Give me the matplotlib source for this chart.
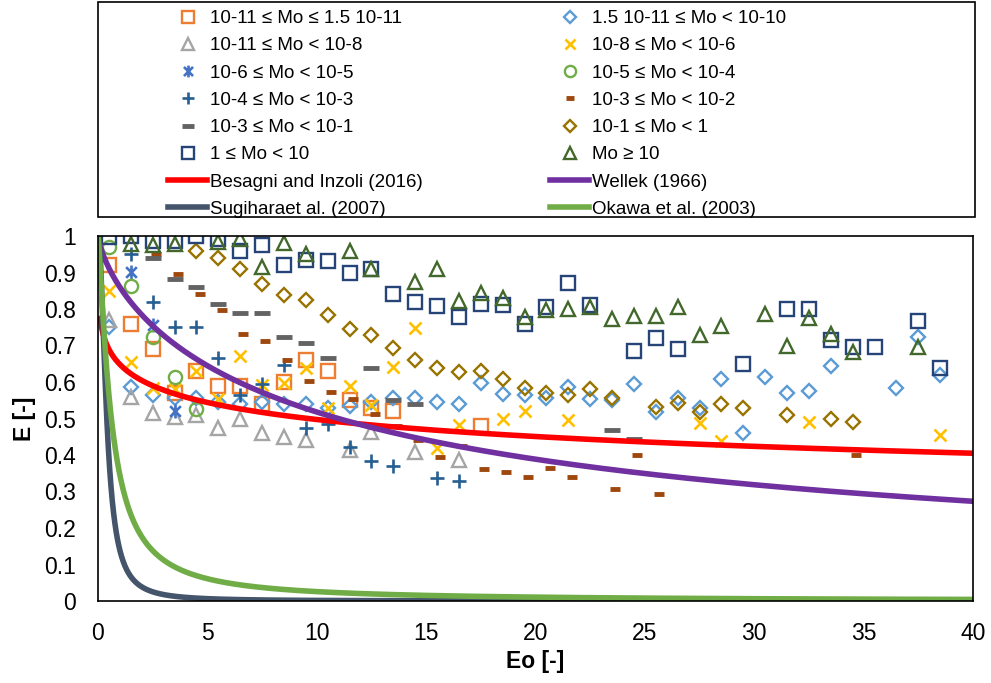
import matplotlib
matplotlib.use('Agg')
import matplotlib.pyplot as plt
import numpy as np
from matplotlib.patches import Rectangle
from matplotlib.path import Path

plt.rcParams['font.family'] = ['Liberation Sans', 'DejaVu Sans']

# --- measured aspect ratio data, grouped by Morton number ---
eo_a = [0.5, 1.5, 2.5, 3.5, 4.5, 5.5, 6.5, 7.5, 8.5, 9.5, 10.5, 11.5, 12.5, 13.5, 17.5]
e_a = [0.92, 0.76, 0.69, 0.57, 0.63, 0.59, 0.59, 0.54, 0.60, 0.66, 0.63, 0.55, 0.53, 0.52, 0.48]

eo_b = [0.5, 1.5, 2.5, 3.5, 4.5, 5.5, 6.5, 7.5, 8.5, 9.5, 10.5, 11.5, 12.5, 13.5, 14.5, 15.5,
        16.5, 17.5, 18.5, 19.5, 20.5, 21.5, 22.5, 23.5, 24.5, 25.5, 26.5, 27.5, 28.5, 29.5,
        30.5, 31.5, 32.5, 33.5, 36.5, 37.5, 38.5]
e_b = [0.75, 0.585, 0.565, 0.555, 0.555, 0.545, 0.54, 0.545, 0.54, 0.54, 0.53, 0.535, 0.545,
       0.555, 0.555, 0.545, 0.54, 0.597, 0.567, 0.564, 0.556, 0.586, 0.553, 0.551, 0.595,
       0.518, 0.556, 0.529, 0.608, 0.46, 0.614, 0.57, 0.575, 0.644, 0.584, 0.723, 0.62]

eo_c = [0.5, 1.5, 2.5, 3.5, 4.5, 5.5, 6.5, 7.5, 8.5, 9.5, 11.5, 12.5, 14.5, 16.5]
e_c = [0.77, 0.56, 0.515, 0.505, 0.51, 0.473, 0.50, 0.46, 0.45, 0.44, 0.415, 0.463, 0.408, 0.386]

eo_d = [0.5, 1.5, 2.5, 3.5, 4.5, 5.5, 6.5, 7.5, 8.5, 9.5, 10.5, 11.5, 12.5, 13.5, 14.5, 15.5,
        16.5, 18.5, 19.5, 21.5, 27.5, 28.5, 32.5, 38.5]
e_d = [0.85, 0.655, 0.584, 0.581, 0.63, 0.553, 0.671, 0.592, 0.597, 0.638, 0.529, 0.589,
       0.537, 0.641, 0.748, 0.42, 0.482, 0.50, 0.52, 0.496, 0.487, 0.438, 0.49, 0.455]

eo_e = [1.5, 2.5, 3.5]
e_e = [0.90, 0.756, 0.52]

eo_f = [0.5, 1.5, 2.5, 3.5, 4.5]
e_f = [0.97, 0.863, 0.723, 0.614, 0.526]

eo_g = [1.5, 2.5, 3.5, 4.5, 5.5, 6.5, 7.5, 8.5, 9.5, 10.5, 11.5, 12.5, 13.5, 15.5, 16.5]
e_g = [0.95, 0.82, 0.75, 0.75, 0.666, 0.564, 0.595, 0.647, 0.474, 0.485, 0.422, 0.384,
       0.37, 0.337, 0.329]

eo_h = [2.65, 3.65, 4.65, 5.65, 6.65, 7.65, 8.65, 9.65, 10.65, 11.65, 12.65, 13.65, 14.65,
        15.65, 16.65, 17.65, 18.65, 19.65, 20.65, 21.65, 23.65, 24.65, 25.65, 34.65]
e_h = [0.95, 0.895, 0.84, 0.797, 0.731, 0.712, 0.66, 0.603, 0.573, 0.553, 0.512, 0.479,
       0.441, 0.395, 0.425, 0.362, 0.354, 0.34, 0.364, 0.34, 0.307, 0.40, 0.293, 0.40]

eo_i = [2.5, 3.5, 4.5, 5.5, 6.5, 7.5, 8.5, 9.5, 10.5, 12.5, 13.5, 14.5, 23.5, 24.5]
e_i = [0.94, 0.882, 0.86, 0.814, 0.789, 0.789, 0.723, 0.707, 0.666, 0.638, 0.551, 0.54,
       0.468, 0.444]

eo_j = [4.5, 5.5, 6.5, 7.5, 8.5, 9.5, 10.5, 11.5, 12.5, 13.5, 14.5, 15.5, 16.5, 17.5, 18.5,
        19.5, 20.5, 21.5, 22.5, 23.5, 25.5, 26.5, 27.5, 28.5, 29.5, 31.5, 33.5, 34.5]
e_j = [0.959, 0.94, 0.91, 0.868, 0.838, 0.825, 0.784, 0.745, 0.729, 0.693, 0.66, 0.638,
       0.627, 0.63, 0.608, 0.584, 0.57, 0.564, 0.581, 0.556, 0.532, 0.542, 0.518, 0.54,
       0.529, 0.51, 0.499, 0.49]

eo_k = [0.5, 1.5, 2.5, 3.5, 4.5, 5.5, 6.5, 7.5, 8.5, 9.5, 10.5, 11.5, 12.5, 13.5, 14.5, 15.5,
        16.5, 17.5, 18.5, 19.5, 20.5, 21.5, 22.5, 24.5, 25.5, 26.5, 29.5, 31.5, 32.5, 33.5,
        34.5, 35.5, 37.5, 38.5]
e_k = [0.997, 1.0, 0.986, 0.986, 1.0, 0.992, 0.959, 0.975, 0.921, 0.934, 0.932, 0.899, 0.91,
       0.841, 0.819, 0.808, 0.778, 0.814, 0.811, 0.759, 0.805, 0.871, 0.811, 0.685, 0.72,
       0.69, 0.649, 0.80, 0.80, 0.715, 0.696, 0.696, 0.767, 0.638]

eo_l = [1.5, 2.5, 3.5, 5.5, 6.5, 7.5, 8.5, 9.5, 11.5, 12.5, 14.5, 15.5, 16.5, 17.5, 18.5,
        19.5, 20.5, 21.5, 22.5, 23.5, 24.5, 25.5, 26.5, 27.5, 28.5, 30.5, 31.5, 32.5, 33.5,
        34.5, 37.5]
e_l = [0.978, 0.975, 0.978, 0.984, 0.992, 0.915, 0.981, 0.951, 0.959, 0.91, 0.874, 0.91,
       0.822, 0.844, 0.83, 0.778, 0.797, 0.80, 0.805, 0.773, 0.781, 0.781, 0.805, 0.729,
       0.753, 0.786, 0.699, 0.775, 0.731, 0.682, 0.696]

# --- correlations, E = 1 / (1 + a * Eo^b) ---
besagni_a, besagni_b = 0.543, 0.27
wellek_a, wellek_b = 0.163, 0.757
sugihara_a, sugihara_b = 6.2, 2.0
okawa_a, okawa_b = 1.9, 1.3

x_ticks = [0, 5, 10, 15, 20, 25, 30, 35, 40]
y_ticks = [0, 0.1, 0.2, 0.3, 0.4, 0.5, 0.6, 0.7, 0.8, 0.9, 1.0]
y_tick_labels = ['0', '0.1', '0.2', '0.3', '0.4', '0.5', '0.6', '0.7', '0.8', '0.9', '1']


def correlation(eo, a, b):
    return 1.0 / (1.0 + a * eo ** b)


eo_line = np.linspace(0.01, 40, 2000)
eo_besagni = np.linspace(0.1, 40, 2000)

fig = plt.figure(figsize=(9.91, 6.83), dpi=100)
ax = fig.add_axes([98 / 991, 1 - 601 / 683, 875 / 991, 365 / 683])

star = Path([(-1, -1), (1, 1), (-1, 1), (1, -1), (0, -1.3), (0, 1.3)],
            [Path.MOVETO, Path.LINETO] * 3)

open_kw = dict(linestyle='none', mfc='none')

h_a, = ax.plot(eo_a, e_a, marker='s', ms=9.5, mew=1.7, mec='#ED7D31', **open_kw,
               label='10-11 ≤ Mo ≤ 1.5 10-11')
h_b, = ax.plot(eo_b, e_b, marker='D', ms=7, mew=1.7, mec='#5B9BD5', **open_kw,
               label='1.5 10-11 ≤ Mo < 10-10')
h_c, = ax.plot(eo_c, e_c, marker='^', ms=10, mew=1.7, mec='#A5A5A5', **open_kw,
               label='10-11 ≤ Mo < 10-8')
h_d, = ax.plot(eo_d, e_d, marker='x', ms=9, mew=1.9, mec='#FFC000', **open_kw,
               label='10-8 ≤ Mo < 10-6')
h_e, = ax.plot(eo_e, e_e, marker=star, ms=10, mew=1.9, mec='#4472C4', **open_kw,
               label='10-6 ≤ Mo < 10-5')
h_f, = ax.plot(eo_f, e_f, marker='o', ms=9.5, mew=1.7, mec='#70AD47', **open_kw,
               label='10-5 ≤ Mo < 10-4')
h_g, = ax.plot(eo_g, e_g, marker='+', ms=9.5, mew=1.9, mec='#255E91', **open_kw,
               label='10-4 ≤ Mo < 10-3')
h_h, = ax.plot(eo_h, e_h, marker='_', ms=7, mew=3.5, mec='#9E480E', **open_kw,
               label='10-3 ≤ Mo < 10-2')
h_i, = ax.plot(eo_i, e_i, marker='_', ms=11, mew=3.5, mec='#636363', **open_kw,
               label='10-3 ≤ Mo < 10-1')
h_j, = ax.plot(eo_j, e_j, marker='D', ms=7, mew=1.7, mec='#997300', **open_kw,
               label='10-1 ≤ Mo < 1')
h_k, = ax.plot(eo_k, e_k, marker='s', ms=9.5, mew=1.7, mec='#264478', **open_kw,
               label='1 ≤ Mo < 10')
h_l, = ax.plot(eo_l, e_l, marker='^', ms=10, mew=1.7, mec='#43682B', **open_kw,
               label='Mo ≥ 10')

h_red, = ax.plot(eo_besagni, correlation(eo_besagni, besagni_a, besagni_b), color='#FF0000',
                 lw=4, label='Besagni and Inzoli (2016)')
h_pur, = ax.plot(eo_line, correlation(eo_line, wellek_a, wellek_b), color='#7030A0',
                 lw=4, label='Wellek (1966)')
h_sug, = ax.plot(eo_line, correlation(eo_line, sugihara_a, sugihara_b), color='#44546A',
                 lw=4, label='Sugiharaet al. (2007)')
h_oka, = ax.plot(eo_line, correlation(eo_line, okawa_a, okawa_b), color='#70AD47',
                 lw=4, label='Okawa et al. (2003)')

ax.set_xlim(0, 40)
ax.set_ylim(0, 1)
ax.set_xticks(x_ticks)
ax.set_yticks(y_ticks)
ax.set_yticklabels(y_tick_labels)
ax.tick_params(length=0, labelsize=16.5)
ax.tick_params(axis='y', pad=16)
ax.tick_params(axis='x', pad=15)
for sp in ax.spines.values():
    sp.set_color('black')
    sp.set_linewidth(1.2)

ax.set_xlabel('Eo [-]', fontsize=16.5, fontweight='bold', labelpad=4)
ax.set_ylabel('E [-]', fontsize=16.5, fontweight='bold', labelpad=6)

# legend: framed box above the axes, two columns
fig.add_artist(Rectangle((98 / 991, 1 - 217 / 683), 877 / 991, 215 / 683,
                         transform=fig.transFigure, fill=False, edgecolor='black', lw=1.2))

leg_kw = dict(loc='upper left', frameon=False, fontsize=13.5, handlelength=2.1,
              handletextpad=0.15, labelspacing=0.54, borderpad=0, borderaxespad=0,
              markerscale=0.85)
col1 = [h_a, h_c, h_e, h_g, h_i, h_k, h_red, h_sug]
col2 = [h_b, h_d, h_f, h_h, h_j, h_l, h_pur, h_oka]
fig.legend(handles=col1, bbox_to_anchor=(168 / 991, 1 - 10 / 683), **leg_kw)
fig.legend(handles=col2, bbox_to_anchor=(550 / 991, 1 - 10 / 683), **leg_kw)

fig.savefig('out.png', dpi=100)
